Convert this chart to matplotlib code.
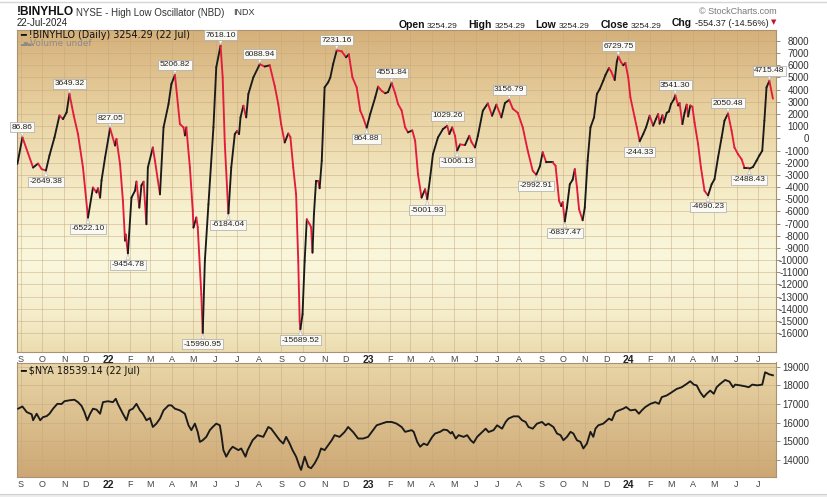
import matplotlib
matplotlib.use("Agg")
import matplotlib.pyplot as plt
import matplotlib.dates as mdates
import numpy as np
import pandas as pd
from matplotlib.collections import LineCollection
from matplotlib.offsetbox import TextArea, HPacker, AnchoredOffsetbox
from matplotlib.lines import Line2D
from matplotlib.patches import Rectangle

plt.rcParams['font.family'] = ['Liberation Sans', 'DejaVu Sans']

# ---------------- data ----------------
osc_dates = [
    "2021-08-27", "2021-09-03", "2021-09-18", "2021-09-25", "2021-09-30", "2021-10-06", "2021-10-11", "2021-10-18", "2021-10-25", "2021-10-30",
    "2021-11-04", "2021-11-08", "2021-11-14", "2021-11-20", "2021-11-27", "2021-12-04", "2021-12-11", "2021-12-16", "2021-12-18", "2021-12-21",
    "2021-12-23", "2021-12-28", "2022-01-04", "2022-01-11", "2022-01-13", "2022-01-18", "2022-01-22", "2022-01-25", "2022-01-26", "2022-01-29",
    "2022-02-03", "2022-02-08", "2022-02-10", "2022-02-14", "2022-02-17", "2022-02-20", "2022-02-24", "2022-02-26", "2022-03-05", "2022-03-08",
    "2022-03-15", "2022-03-20", "2022-03-27", "2022-03-31", "2022-04-05", "2022-04-12", "2022-04-17", "2022-04-19", "2022-04-21", "2022-04-26",
    "2022-04-30", "2022-05-01", "2022-05-05", "2022-05-07", "2022-05-12", "2022-05-14", "2022-05-17", "2022-05-22", "2022-05-29", "2022-06-02",
    "2022-06-08", "2022-06-11", "2022-06-14", "2022-06-19", "2022-06-23", "2022-06-28", "2022-07-01", "2022-07-04", "2022-07-06", "2022-07-10",
    "2022-07-14", "2022-07-17", "2022-07-24", "2022-08-02", "2022-08-09", "2022-08-16", "2022-08-23", "2022-08-28", "2022-09-01", "2022-09-06",
    "2022-09-11", "2022-09-14", "2022-09-18", "2022-09-22", "2022-09-25", "2022-09-27", "2022-09-28", "2022-10-01", "2022-10-04", "2022-10-07",
    "2022-10-11", "2022-10-13", "2022-10-15", "2022-10-17", "2022-10-20", "2022-10-23", "2022-10-25", "2022-10-28", "2022-11-01", "2022-11-06",
    "2022-11-09", "2022-11-13", "2022-11-18", "2022-11-25", "2022-12-01", "2022-12-05", "2022-12-10", "2022-12-16", "2022-12-21", "2022-12-25",
    "2022-12-30", "2023-01-04", "2023-01-11", "2023-01-15", "2023-01-20", "2023-01-25", "2023-01-29", "2023-02-03", "2023-02-08", "2023-02-12",
    "2023-02-17", "2023-02-22", "2023-02-26", "2023-03-04", "2023-03-08", "2023-03-12", "2023-03-17", "2023-03-22", "2023-03-25", "2023-03-29",
    "2023-04-02", "2023-04-09", "2023-04-16", "2023-04-22", "2023-04-25", "2023-04-29", "2023-05-03", "2023-05-06", "2023-05-10", "2023-05-17",
    "2023-05-23", "2023-05-26", "2023-05-31", "2023-06-04", "2023-06-11", "2023-06-18", "2023-06-24", "2023-06-30", "2023-07-07", "2023-07-12",
    "2023-07-18", "2023-07-23", "2023-07-30", "2023-08-06", "2023-08-13", "2023-08-20", "2023-08-25", "2023-08-30", "2023-09-03", "2023-09-08",
    "2023-09-17", "2023-09-21", "2023-09-26", "2023-09-29", "2023-10-01", "2023-10-04", "2023-10-07", "2023-10-11", "2023-10-15", "2023-10-18",
    "2023-10-21", "2023-10-24", "2023-10-29", "2023-11-01", "2023-11-05", "2023-11-09", "2023-11-14", "2023-11-18", "2023-11-22", "2023-11-27",
    "2023-11-30", "2023-12-05", "2023-12-08", "2023-12-13", "2023-12-16", "2023-12-18", "2023-12-22", "2023-12-25", "2023-12-28", "2024-01-01",
    "2024-01-04", "2024-01-10", "2024-01-13", "2024-01-17", "2024-01-22", "2024-01-26", "2024-01-31", "2024-02-05", "2024-02-09", "2024-02-12",
    "2024-02-14", "2024-02-18", "2024-02-20", "2024-02-24", "2024-02-27", "2024-03-01", "2024-03-05", "2024-03-07", "2024-03-11", "2024-03-13",
    "2024-03-17", "2024-03-20", "2024-03-23", "2024-03-25", "2024-03-28", "2024-03-31", "2024-04-03", "2024-04-08", "2024-04-12", "2024-04-17",
    "2024-04-22", "2024-04-27", "2024-05-01", "2024-05-06", "2024-05-11", "2024-05-15", "2024-05-20", "2024-05-25", "2024-05-29", "2024-06-03",
    "2024-06-08", "2024-06-12", "2024-06-17", "2024-06-19", "2024-06-24", "2024-06-29", "2024-07-03", "2024-07-07", "2024-07-10", "2024-07-13",
    "2024-07-17", "2024-07-22",
]
osc_values = [
    -2100, 86.86, -2400, -2070, -2530, -2649.38, -1400, 74, 1880, 1580,
    2130, 3649.32, 1880, 350, -2400, -6522.10, -4040, -4450, -4100, -4870,
    -3460, -1570, 827.05, -590, -60, -2120, -5110, -8400, -7900, -9454.78,
    -4870, -4300, -3550, -5690, -3860, -3560, -7060, -2400, -750, -1850,
    -4600, 900, 2820, 4460, 5206.82, 1170, 900, 240, 900, -2400,
    -5930, -7330, -6500, -7300, -12820, -15990.95, -10050, -5420, 900, 5840,
    7618.10, 5000, -480, -6184.04, -2400, 350, 600, 350, 1720, 2680,
    1720, 3640, 5010, 6088.94, 5900, 6000, 4300, 2820, 1170, -340,
    400, 100, -2400, -4600, -10070, -15010, -15689.52, -14450, -10070, -6650,
    -7060, -7300, -9390, -6240, -3490, -3490, -4100, -1840, 4190, 4600,
    5000, 6110, 7231.16, 7150, 6660, 6900, 5010, 4190, 2270, 1720,
    864.88, 2000, 3370, 4250, 3900, 3700, 3800, 4551.84, 3700, 2820,
    2300, 900, 490, 650, -200, -2950, -4870, -4180, -5001.93, -3250,
    -1300, 70, 760, 1029.26, 350, 900, 200, -1006.13, -500, -550,
    210, -300, -750, 200, 2270, 2870, 1860, 2770, 1720, 2900,
    3156.79, 2430, 2100, 900, -1020, -2670, -2992.91, -2300, -1140, -1980,
    -1980, -2250, -5140, -5560, -5250, -6837.47, -5690, -3770, -3400, -2530,
    -4000, -5830, -6730, -5690, -1840, 900, 1720, 3640, 4050, 4740,
    5200, 5780, 5500, 4790, 6300, 6729.75, 6250, 6000, 6200, 5010,
    3370, 1720, 900, -244.33, 350, 900, 1860, 1040, 1600, 2000,
    1200, 1900, 1300, 2100, 2200, 2820, 3200, 3541.30, 2700, 2900,
    1170, 2100, 2770, 1800, 2700, 2600, 1310, -480, -2400, -4310,
    -4690.23, -3770, -3360, -1570, 70, 1450, 2050.48, 620, -750, -1300,
    -1710, -2400, -2400, -2488.43, -2350, -1840, -1400, -1020, 1450, 4190,
    4715.48, 3254.29,
]

label_dates = [
    "2021-09-03", "2021-10-06", "2021-11-08", "2021-12-04", "2022-01-04", "2022-01-29", "2022-04-05",
    "2022-05-14", "2022-06-08", "2022-06-19", "2022-08-02", "2022-09-28", "2022-11-18", "2022-12-30",
    "2023-02-03", "2023-03-25", "2023-04-22", "2023-05-06", "2023-07-18", "2023-08-25", "2023-10-04",
    "2023-12-18", "2024-01-17", "2024-03-07", "2024-04-22", "2024-05-20", "2024-06-19", "2024-07-17",
]
label_values = [
    86.86, -2649.38, 3649.32, -6522.10, 827.05, -9454.78, 5206.82,
    -15990.95, 7618.10, -6184.04, 6088.94, -15689.52, 7231.16, 864.88,
    4551.84, -5001.93, 1029.26, -1006.13, 3156.79, -2992.91, -6837.47,
    6729.75, -244.33, 3541.30, -4690.23, 2050.48, -2488.43, 4715.48,
]
label_sides = [
    "up", "down", "up", "down", "up", "down", "up",
    "down", "up", "down", "up", "down", "up", "down",
    "up", "down", "up", "down", "up", "down", "down",
    "up", "down", "up", "down", "up", "down", "up",
]

nya_dates = [
    "2021-08-28", "2021-09-03", "2021-09-09", "2021-09-16", "2021-09-18", "2021-09-23", "2021-09-28", "2021-10-02", "2021-10-07", "2021-10-11",
    "2021-10-16", "2021-10-22", "2021-10-28", "2021-11-01", "2021-11-08", "2021-11-15", "2021-11-20", "2021-11-25", "2021-11-29", "2021-12-03",
    "2021-12-07", "2021-12-11", "2021-12-16", "2021-12-21", "2021-12-25", "2022-01-01", "2022-01-08", "2022-01-12", "2022-01-15", "2022-01-22",
    "2022-01-27", "2022-01-31", "2022-02-05", "2022-02-10", "2022-02-15", "2022-02-19", "2022-02-24", "2022-03-01", "2022-03-05", "2022-03-10",
    "2022-03-15", "2022-03-20", "2022-03-27", "2022-03-31", "2022-04-05", "2022-04-12", "2022-04-19", "2022-04-24", "2022-04-28", "2022-05-03",
    "2022-05-07", "2022-05-10", "2022-05-14", "2022-05-19", "2022-05-24", "2022-05-28", "2022-06-02", "2022-06-07", "2022-06-09", "2022-06-12",
    "2022-06-16", "2022-06-21", "2022-06-25", "2022-07-03", "2022-07-07", "2022-07-13", "2022-07-16", "2022-07-23", "2022-07-30", "2022-08-07",
    "2022-08-14", "2022-08-18", "2022-08-23", "2022-08-30", "2022-09-04", "2022-09-08", "2022-09-13", "2022-09-17", "2022-09-22", "2022-09-27",
    "2022-09-29", "2022-10-04", "2022-10-09", "2022-10-13", "2022-10-18", "2022-10-23", "2022-10-27", "2022-11-01", "2022-11-06", "2022-11-11",
    "2022-11-15", "2022-11-22", "2022-11-29", "2022-12-04", "2022-12-11", "2022-12-18", "2022-12-25", "2023-01-01", "2023-01-06", "2023-01-13",
    "2023-01-20", "2023-01-27", "2023-02-03", "2023-02-10", "2023-02-17", "2023-02-22", "2023-03-03", "2023-03-06", "2023-03-11", "2023-03-15",
    "2023-03-20", "2023-03-25", "2023-04-01", "2023-04-05", "2023-04-12", "2023-04-17", "2023-04-22", "2023-04-27", "2023-04-29", "2023-05-04",
    "2023-05-08", "2023-05-15", "2023-05-20", "2023-05-25", "2023-05-29", "2023-06-03", "2023-06-08", "2023-06-15", "2023-06-19", "2023-06-26",
    "2023-07-01", "2023-07-08", "2023-07-13", "2023-07-17", "2023-07-24", "2023-07-31", "2023-08-05", "2023-08-10", "2023-08-14", "2023-08-20",
    "2023-08-26", "2023-09-02", "2023-09-07", "2023-09-11", "2023-09-18", "2023-09-23", "2023-09-28", "2023-10-02", "2023-10-07", "2023-10-12",
    "2023-10-16", "2023-10-21", "2023-10-26", "2023-10-30", "2023-11-04", "2023-11-09", "2023-11-13", "2023-11-16", "2023-11-20", "2023-11-27",
    "2023-12-05", "2023-12-09", "2023-12-14", "2023-12-19", "2023-12-25", "2023-12-29", "2024-01-04", "2024-01-11", "2024-01-16", "2024-01-20",
    "2024-01-25", "2024-02-01", "2024-02-08", "2024-02-13", "2024-02-17", "2024-02-24", "2024-03-02", "2024-03-09", "2024-03-16", "2024-03-23",
    "2024-03-28", "2024-04-02", "2024-04-06", "2024-04-11", "2024-04-16", "2024-04-20", "2024-04-25", "2024-04-30", "2024-05-04", "2024-05-09",
    "2024-05-16", "2024-05-22", "2024-05-27", "2024-05-30", "2024-06-06", "2024-06-13", "2024-06-18", "2024-06-23", "2024-06-30", "2024-07-07",
    "2024-07-11", "2024-07-14", "2024-07-16", "2024-07-22",
]
nya_values = [
    16750, 16870, 16570, 16450, 16130, 16480, 16130, 16300, 16350, 16480,
    16750, 17010, 17000, 17150, 17200, 17230, 17100, 16900, 16570, 16130,
    16480, 16750, 16700, 16480, 17100, 17150, 17100, 17280, 17000, 16480,
    16130, 16660, 16750, 17010, 16660, 16480, 16130, 16250, 15770, 15950,
    16220, 16660, 16930, 16930, 16750, 16660, 16480, 15860, 15600, 15950,
    15500, 14970, 15060, 15240, 15600, 15770, 15950, 15860, 15400, 14530,
    14180, 14530, 14710, 14530, 14620, 14180, 14530, 15060, 15330, 15240,
    15770, 15680, 15420, 15060, 14880, 15240, 14880, 14530, 14180, 13640,
    13470, 14180, 13640, 13560, 13820, 14180, 14620, 14530, 14800, 15060,
    15330, 15240, 15500, 15770, 15500, 15150, 15150, 15240, 15500, 15860,
    15950, 16040, 16040, 15950, 15770, 15510, 15600, 15510, 14970, 14710,
    14880, 14800, 15240, 15420, 15510, 15630, 15600, 15420, 15510, 15150,
    15330, 15240, 15330, 15060, 14920, 15240, 15420, 15680, 15500, 15600,
    15860, 15680, 16040, 16220, 16340, 16340, 16130, 16040, 15770, 15680,
    15950, 16040, 15860, 15950, 15770, 15420, 15330, 15060, 15240, 15510,
    15420, 15060, 14970, 14620, 14880, 15510, 15240, 15680, 15860, 15950,
    16220, 16130, 16570, 16660, 16750, 16840, 16660, 16700, 16480, 16660,
    16840, 17010, 17100, 17010, 17370, 17460, 17630, 17810, 17900, 18080,
    18220, 18040, 18000, 17630, 17370, 17550, 17720, 17550, 17900, 18080,
    18290, 18200, 17900, 18040, 18000, 17950, 17900, 18040, 18000, 18040,
    18700, 18650, 18600, 18539.14,
]

osc_ticks = list(range(-16000, 8001, 1000))
nya_ticks = list(range(14000, 19001, 1000))

# ---------------- figure ----------------
W, H = 828, 497
fig = plt.figure(figsize=(W / 100, H / 100), dpi=100)
fig.patch.set_facecolor("white")

L, R = 17, 776.5
ax1 = fig.add_axes([L / W, 1 - 352 / H, (R - L) / W, (352 - 30) / H])
ax2 = fig.add_axes([L / W, 1 - 477 / H, (R - L) / W, (477 - 362.5) / H])


def gradient(ax, stops):
    pos = [s[0] for s in stops]
    cols = np.array([s[1] for s in stops], dtype=float) / 255.0
    t = np.linspace(0, 1, 400)
    arr = np.stack([np.interp(t, pos, cols[:, i]) for i in range(3)], axis=-1)[:, None, :]
    ax.imshow(arr, extent=[0, 1, 0, 1], transform=ax.transAxes, aspect="auto",
              zorder=0, interpolation="bilinear", origin="upper")


gradient(ax1, [(0.0, (213, 176, 122)), (0.25, (232, 209, 160)), (0.55, (247, 240, 206)),
               (0.72, (250, 247, 221)), (0.88, (245, 237, 203)), (1.0, (236, 221, 176))])
gradient(ax2, [(0.0, (233, 214, 168)), (1.0, (205, 167, 116))])

RED = "#e31b3d"
BLACK = "#1a1a1a"

x = mdates.date2num(pd.to_datetime(osc_dates))
y = np.array(osc_values, dtype=float)
pts = np.column_stack([x, y])
segs = np.stack([pts[:-1], pts[1:]], axis=1)
seg_colors = [RED if y[i + 1] < y[i] else BLACK for i in range(len(y) - 1)]
lc = LineCollection(segs, colors=seg_colors, linewidths=1.35, capstyle="round",
                    joinstyle="round", zorder=3)
ax1.add_collection(lc)

xn = mdates.date2num(pd.to_datetime(nya_dates))
ax2.plot(xn, nya_values, color=BLACK, lw=1.35, zorder=3, solid_joinstyle="round")

# peak/trough labels
for d, v, side in zip(label_dates, label_values, label_sides):
    off = 7.3 if side == "up" else -8.0
    ax1.annotate(f"{v:.2f}", xy=(mdates.date2num(pd.Timestamp(d)), v), xytext=(0, off),
                 textcoords="offset points", ha="center", va="center", fontsize=6,
                 color="#222222", annotation_clip=False, zorder=6,
                 bbox=dict(boxstyle="square,pad=0.18", fc="#fbf9f3", ec="#a9a9a9", lw=0.5),
                 arrowprops=dict(arrowstyle="wedge,tail_width=0.45,shrink_factor=0.5",
                                 fc="#fbf9f3", ec="#b5b5b5", lw=0.4, shrinkA=0, shrinkB=0.5))

xlo = mdates.date2num(pd.Timestamp("2021-08-26 10:00"))
xhi = mdates.date2num(pd.Timestamp("2024-07-27"))
ax1.set_xlim(xlo, xhi)
ax2.set_xlim(xlo, xhi)
ax1.set_ylim(-17550, 8900)
ax2.set_ylim(13090, 19225)

months = pd.date_range("2021-09-01", "2024-07-01", freq="MS")
mlabels = [f"{d.year % 100}" if d.month == 1 else "JFMAMJJASOND"[d.month - 1] for d in months]

for ax, ticks in ((ax1, osc_ticks), (ax2, nya_ticks)):
    ax.set_xticks(mdates.date2num(months))
    ax.set_xticklabels(mlabels)
    ax.tick_params(axis="x", length=0, pad=2.2, labelsize=6.5, labelcolor="#444444")
    for lbl, d in zip(ax.get_xticklabels(), months):
        if d.month == 1:
            lbl.set_fontweight("bold")
            lbl.set_fontsize(7.5)
            lbl.set_color("#222222")
    ax.yaxis.tick_right()
    ax.set_yticks(ticks)
    ax.set_yticklabels([str(t) for t in ticks])
    ax.tick_params(axis="y", length=3, width=0.6, color="#8c7b5e", labelsize=7,
                   pad=20.4, labelcolor="#333333")
    for lbl in ax.get_yticklabels():
        lbl.set_horizontalalignment("right")
    ax.grid(True, color="#c4a77d", lw=0.6, alpha=0.55)
    for s in ax.spines.values():
        s.set_color("#a89272")
        s.set_linewidth(0.8)

# ---------------- texts ----------------
def P(xp, yp):
    return xp / W, 1 - yp / H

fig.text(*P(17, 12), "!BINYHLO", fontsize=8.6, fontweight="bold", color="#111111", va="center")
fig.text(*P(76, 12.5), "NYSE - High Low Oscillator (NBD)", fontsize=7, color="#333333", va="center")
fig.text(*P(233, 12.5), "INDX", fontsize=6.5, color="#333333", va="center")
fig.text(*P(17, 23.5), "22-Jul-2024", fontsize=7, color="#222222", va="center")
fig.text(*P(776.5, 12), "\u00a9 StockCharts.com", fontsize=6.5, color="#777777", va="center", ha="right")

def grp(label, value, vsize=6.1):
    a = TextArea(label, textprops=dict(fontsize=7.5, fontweight="bold", color="#111111"))
    b = TextArea(value, textprops=dict(fontsize=vsize, color="#222222"))
    return HPacker(children=[a, b], align="baseline", pad=0, sep=1.8)

tri = TextArea("\u25bc", textprops=dict(fontsize=5, color="#c8102e", family="DejaVu Sans"))
row = HPacker(children=[grp("Open", "3254.29"), grp("High", "3254.29"), grp("Low", "3254.29"),
                        grp("Close", "3254.29"),
                        HPacker(children=[grp("Chg", "-554.37 (-14.56%)", 6.6), tri], align="center", pad=0, sep=2)],
              align="baseline", pad=0, sep=7.5)
ab = AnchoredOffsetbox(loc="center right", child=row, pad=0, borderpad=0, frameon=False,
                       bbox_to_anchor=P(776.5, 23.5), bbox_transform=fig.transFigure)
fig.add_artist(ab)

fig.text(*P(20, 35.5), "\u2501 !BINYHLO (Daily) 3254.29 (22 Jul)", fontsize=6.9, color="#111111",
         va="center", family="DejaVu Sans")
fig.text(*P(20, 43.5), "\u2583\u2586\u2584", fontsize=3.6, color="#8a8a8a", va="center", family="DejaVu Sans")
fig.text(*P(30, 43.5), "Volume undef", fontsize=6.4, color="#8a8a8a", va="center", family="DejaVu Sans")
fig.text(*P(20, 371), "\u2501 \\$NYA 18539.14 (22 Jul)", fontsize=6.9, color="#111111",
         va="center", family="DejaVu Sans")

# frame lines
fig.add_artist(Line2D([0, 1], [1 - 1.5 / H, 1 - 1.5 / H], transform=fig.transFigure, color="#d6d6d6", lw=1))
fig.add_artist(Rectangle((0, 0), 1, 3 / H, transform=fig.transFigure, color="#ededed", lw=0))
fig.add_artist(Line2D([0, 1], [3 / H, 3 / H], transform=fig.transFigure, color="#d0d0d0", lw=0.8))

fig.savefig("out.png", dpi=100)
